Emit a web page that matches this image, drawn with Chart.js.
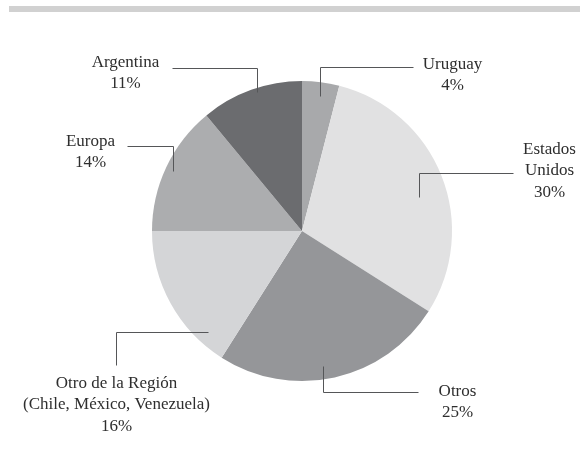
<!DOCTYPE html>
<html>
<head>
<meta charset="utf-8">
<title>Origen</title>
<script src="https://cdn.jsdelivr.net/npm/chart.js"></script>
<style>
  html, body { margin: 0; padding: 0; background: #fff; }
  #wrap { position: relative; width: 580px; height: 468px; }
  #bar { position: absolute; left: 9px; right: 0; top: 6px; height: 6px; background: #d1d1d1; }
  canvas { position: absolute; left: 0; top: 0; }
</style>
</head>
<body>
<div id="wrap">
  <div id="bar"></div>
  <canvas id="chart" width="580" height="468"></canvas>
</div>
<script>
// data
const regions = ['Uruguay', 'Estados Unidos', 'Otros', 'Otro de la Región', 'Europa', 'Argentina'];
const shares = [4, 30, 25, 16, 14, 11];
const labelLines = [
  ['Uruguay'],
  ['Estados', 'Unidos'],
  ['Otros'],
  ['Otro de la Región', '(Chile, México, Venezuela)'],
  ['Europa'],
  ['Argentina']
];
const sliceColors = ['#a8a9ab', '#e1e1e2', '#959699', '#d4d5d7', '#acadaf', '#6b6c6f'];

// leader layout: where on the slice the line starts (t along arc, rf of radius),
// the elbow steps, and the label offset from the line end
const leaders = [
  { t: 0.52, rf: 0.91, steps: [[0, -29], [93, 0]], dx: 39, dy: -3 },
  { t: 0.55, rf: 0.81, steps: [[0, -24], [94, 0]], dx: 36, dy: -24 },
  { t: 0.54, rf: 0.91, steps: [[0, 26], [95, 0]], dx: 39, dy: -1 },
  { t: 0.18, rf: 0.92, steps: [[-92, 0], [0, 33]], dx: 0, dy: 18 },
  { t: 0.49, rf: 0.95, steps: [[0, -25], [-46, 0]], dx: -37, dy: -5 },
  { t: 0.55, rf: 0.97, steps: [[0, -24], [-85, 0]], dx: -47, dy: -6 }
];

const leaderPlugin = {
  id: 'leaders',
  afterDatasetsDraw(chart) {
    const ctx = chart.ctx;
    const arcs = chart.getDatasetMeta(0).data;
    ctx.save();
    arcs.forEach((arc, i) => {
      const L = leaders[i];
      const a = arc.startAngle + L.t * (arc.endAngle - arc.startAngle);
      let x = Math.round(arc.x + Math.cos(a) * arc.outerRadius * L.rf) + 0.5;
      let y = Math.round(arc.y + Math.sin(a) * arc.outerRadius * L.rf) + 0.5;
      ctx.strokeStyle = '#555658';
      ctx.lineWidth = 1;
      ctx.beginPath();
      ctx.moveTo(x, y);
      L.steps.forEach(s => { x += s[0]; y += s[1]; ctx.lineTo(x, y); });
      ctx.stroke();

      const lines = labelLines[i].concat([shares[i] + '%']);
      ctx.fillStyle = '#2e2e2e';
      ctx.font = '17px "Liberation Serif", "DejaVu Serif", serif';
      ctx.textAlign = 'center';
      ctx.textBaseline = 'middle';
      lines.forEach((txt, k) => {
        ctx.fillText(txt, x + L.dx, y + L.dy + k * 21.5);
      });
    });
    ctx.restore();
  }
};

new Chart(document.getElementById('chart').getContext('2d'), {
  type: 'pie',
  data: {
    labels: regions,
    datasets: [{
      data: shares,
      backgroundColor: sliceColors,
      borderWidth: 0
    }]
  },
  options: {
    responsive: false,
    animation: false,
    layout: { padding: { left: 152, right: 128, top: 81, bottom: 87 } },
    plugins: {
      legend: { display: false },
      tooltip: { enabled: false }
    }
  },
  plugins: [leaderPlugin]
});
</script>
</body>
</html>
